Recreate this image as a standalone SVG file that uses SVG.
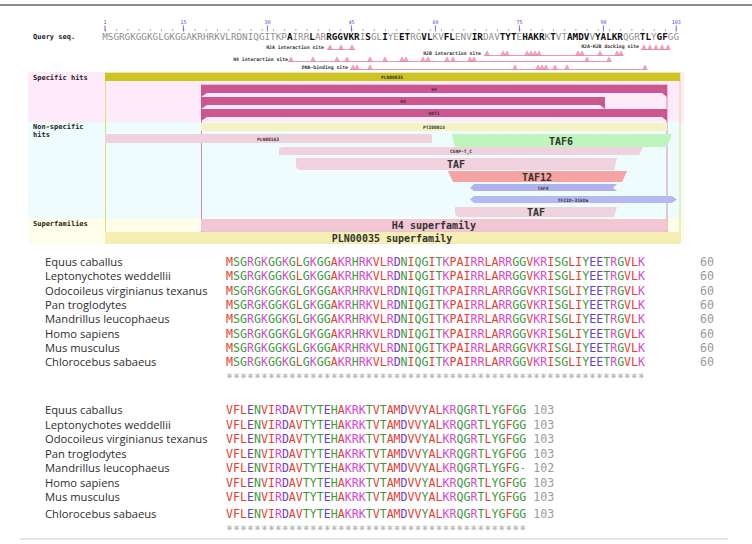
<svg xmlns="http://www.w3.org/2000/svg" xmlns:xlink="http://www.w3.org/1999/xlink" width="752" height="544" viewBox="0 0 752 544">
<style>
.mono{font-family:"DejaVu Sans Mono","Liberation Mono",monospace}
.lbl{font-family:"DejaVu Sans Mono",monospace;font-weight:bold;font-size:7px;fill:#222}
.tiny{font-family:"DejaVu Sans Mono",monospace;font-weight:bold;font-size:4.6px;fill:#333}
.big{font-family:"DejaVu Sans Mono",monospace;font-weight:bold;font-size:10px;fill:#333}
.site{font-family:"DejaVu Sans Mono",monospace;font-weight:bold;font-size:4.8px;fill:#333}
.ruler{font-family:"DejaVu Sans Mono",monospace;font-size:5px;fill:#4a4ad8}
.q{font-family:"DejaVu Sans Mono",monospace;font-size:9.3px;fill:#8e8e8e}
.qb{font-weight:bold;fill:#111}
.sp{font-family:"Open Sans","Liberation Sans",sans-serif;font-size:11.2px;fill:#2e2e2e}
.aln{font-family:"DejaVu Sans Mono","Liberation Mono",monospace;font-size:11.6px}
.r{fill:#e6402e}.b{fill:#6342dc}.m{fill:#d848cc}.g{fill:#3c9a3c}.n{fill:#9a9a9a}
.star{font-family:"DejaVu Sans Mono",monospace;font-size:11.6px;fill:#aaa}
.tri{fill:#f2a6bd;stroke:#e07896;stroke-width:0.5}
.sl{stroke:#e898b0;stroke-width:1;fill:none}
</style>
<defs>
<path id="tri" class="tri" d="M-2.3,0 L0,-4.6 L2.3,0 Z"/>
<text id="s1" class="aln" x="226" y="0"><tspan class="r">M</tspan><tspan class="g">SG</tspan><tspan class="m">R</tspan><tspan class="g">G</tspan><tspan class="m">K</tspan><tspan class="g">GG</tspan><tspan class="m">K</tspan><tspan class="g">G</tspan><tspan class="r">L</tspan><tspan class="g">G</tspan><tspan class="m">K</tspan><tspan class="g">GG</tspan><tspan class="r">A</tspan><tspan class="m">KR</tspan><tspan class="g">H</tspan><tspan class="m">RK</tspan><tspan class="r">VL</tspan><tspan class="m">R</tspan><tspan class="b">D</tspan><tspan class="g">N</tspan><tspan class="r">I</tspan><tspan class="g">QG</tspan><tspan class="r">I</tspan><tspan class="g">T</tspan><tspan class="m">K</tspan><tspan class="r">PAI</tspan><tspan class="m">RR</tspan><tspan class="r">LA</tspan><tspan class="m">RR</tspan><tspan class="g">GG</tspan><tspan class="r">V</tspan><tspan class="m">KR</tspan><tspan class="r">I</tspan><tspan class="g">SG</tspan><tspan class="r">LI</tspan><tspan class="g">Y</tspan><tspan class="b">EE</tspan><tspan class="g">T</tspan><tspan class="m">R</tspan><tspan class="g">G</tspan><tspan class="r">VL</tspan><tspan class="m">K</tspan><tspan class="n" x="700">60</tspan></text>
<text id="s2" class="aln" x="226" y="0"><tspan class="r">VFL</tspan><tspan class="b">E</tspan><tspan class="g">N</tspan><tspan class="r">VI</tspan><tspan class="m">R</tspan><tspan class="b">D</tspan><tspan class="r">AV</tspan><tspan class="g">TYT</tspan><tspan class="b">E</tspan><tspan class="g">H</tspan><tspan class="r">A</tspan><tspan class="m">KRK</tspan><tspan class="g">T</tspan><tspan class="r">V</tspan><tspan class="g">T</tspan><tspan class="r">AM</tspan><tspan class="b">D</tspan><tspan class="r">VV</tspan><tspan class="g">Y</tspan><tspan class="r">AL</tspan><tspan class="m">KR</tspan><tspan class="g">QG</tspan><tspan class="m">R</tspan><tspan class="g">T</tspan><tspan class="r">L</tspan><tspan class="g">YG</tspan><tspan class="r">F</tspan><tspan class="g">GG</tspan><tspan class="n"> 103</tspan></text>
<text id="s2d" class="aln" x="226" y="0"><tspan class="r">VFL</tspan><tspan class="b">E</tspan><tspan class="g">N</tspan><tspan class="r">VI</tspan><tspan class="m">R</tspan><tspan class="b">D</tspan><tspan class="r">AV</tspan><tspan class="g">TYT</tspan><tspan class="b">E</tspan><tspan class="g">H</tspan><tspan class="r">A</tspan><tspan class="m">KRK</tspan><tspan class="g">T</tspan><tspan class="r">V</tspan><tspan class="g">T</tspan><tspan class="r">AM</tspan><tspan class="b">D</tspan><tspan class="r">VV</tspan><tspan class="g">Y</tspan><tspan class="r">AL</tspan><tspan class="m">KR</tspan><tspan class="g">QG</tspan><tspan class="m">R</tspan><tspan class="g">T</tspan><tspan class="r">L</tspan><tspan class="g">YG</tspan><tspan class="r">F</tspan><tspan class="g">G</tspan><tspan class="n">- 102</tspan></text>
</defs>
<rect width="752" height="544" fill="#fff"/>
<line x1="0" y1="5" x2="752" y2="5" stroke="#666" stroke-width="1.5"/>

<g id="cdd-graphic">
  <g id="backgrounds">
    <rect x="28" y="72" width="656" height="50" fill="#fdeafa"/>
    <rect x="28" y="122" width="656" height="96" fill="#eefcfd"/>
    <rect x="28" y="218" width="656" height="26" fill="#fefdea"/>
  </g>
  <g id="ruler">
    <line x1="105" y1="30" x2="677" y2="30" stroke="#8888c8" stroke-width="1.3" stroke-dasharray="1 10.2"/>
    <g stroke="#4a4ad8" stroke-width="0.8">
      <line x1="105" y1="25.5" x2="105" y2="31.5"/><line x1="183.4" y1="25.5" x2="183.4" y2="31.5"/><line x1="267.4" y1="25.5" x2="267.4" y2="31.5"/><line x1="351.4" y1="25.5" x2="351.4" y2="31.5"/><line x1="435.4" y1="25.5" x2="435.4" y2="31.5"/><line x1="519.4" y1="25.5" x2="519.4" y2="31.5"/><line x1="603.4" y1="25.5" x2="603.4" y2="31.5"/><line x1="676.2" y1="25.5" x2="676.2" y2="31.5"/>
    </g>
    <g class="ruler" text-anchor="middle">
      <text x="105" y="24">1</text><text x="183.4" y="24">15</text><text x="267.4" y="24">30</text><text x="351.4" y="24">45</text><text x="435.4" y="24">60</text><text x="519.4" y="24">75</text><text x="603.4" y="24">90</text><text x="676.2" y="24">103</text>
    </g>
  </g>
  <text class="lbl" x="33" y="39">Query seq.</text>
  <text class="q" x="102.2" y="40">MSGRGKGGKGLGKGGAKRHRKVLRDNIQGITKP<tspan class="qb">A</tspan>IRR<tspan class="qb">L</tspan>AR<tspan class="qb">RGGVKR</tspan>I<tspan class="qb">S</tspan>GL<tspan class="qb">I</tspan>YE<tspan class="qb">ET</tspan>RG<tspan class="qb">VL</tspan>KV<tspan class="qb">FL</tspan>ENV<tspan class="qb">IR</tspan>DAV<tspan class="qb">TYT</tspan>E<tspan class="qb">HAKR</tspan>K<tspan class="qb">T</tspan>VT<tspan class="qb">AMDV</tspan>V<tspan class="qb">YALKR</tspan>QGR<tspan class="qb">TL</tspan>Y<tspan class="qb">GF</tspan>GG</text>

  <g id="sites">
    <g id="site-h2a">
      <text class="site" x="324" y="49" text-anchor="end">H2A interaction site</text>
      <line class="sl" x1="327" y1="49.5" x2="355" y2="49.5"/>
      <use href="#tri" x="330" y="49.5"/><use href="#tri" x="341" y="49.5"/><use href="#tri" x="352" y="49.5"/>
    </g>
    <g id="site-dock">
      <text class="site" x="639" y="48" text-anchor="end">H2A-H2B docking site</text>
      <line class="sl" x1="641" y1="49.5" x2="670" y2="49.5"/>
      <use href="#tri" x="644" y="49.5"/><use href="#tri" x="650" y="49.5"/><use href="#tri" x="656" y="49.5"/><use href="#tri" x="662" y="49.5"/><use href="#tri" x="668" y="49.5"/>
    </g>
    <g id="site-h2b">
      <text class="site" x="481" y="55" text-anchor="end">H2B interaction site</text>
      <line class="sl" x1="484" y1="55.5" x2="623" y2="55.5"/>
      <use href="#tri" x="487" y="55.5"/><use href="#tri" x="503" y="55.5"/><use href="#tri" x="507" y="55.5"/><use href="#tri" x="527" y="55.5"/><use href="#tri" x="531" y="55.5"/><use href="#tri" x="535" y="55.5"/><use href="#tri" x="539" y="55.5"/><use href="#tri" x="578" y="55.5"/><use href="#tri" x="582" y="55.5"/><use href="#tri" x="600" y="55.5"/><use href="#tri" x="617" y="55.5"/><use href="#tri" x="621" y="55.5"/>
    </g>
    <g id="site-h4">
      <text class="site" x="288" y="61" text-anchor="end">H4 interaction site</text>
      <line class="sl" x1="288" y1="61.5" x2="611" y2="61.5"/>
      <use href="#tri" x="291" y="61.5"/><use href="#tri" x="313" y="61.5"/><use href="#tri" x="337" y="61.5"/><use href="#tri" x="347" y="61.5"/><use href="#tri" x="370" y="61.5"/><use href="#tri" x="385" y="61.5"/><use href="#tri" x="402" y="61.5"/><use href="#tri" x="406" y="61.5"/><use href="#tri" x="423" y="61.5"/><use href="#tri" x="428" y="61.5"/><use href="#tri" x="447" y="61.5"/><use href="#tri" x="453" y="61.5"/><use href="#tri" x="470" y="61.5"/><use href="#tri" x="474" y="61.5"/><use href="#tri" x="587" y="61.5"/><use href="#tri" x="609" y="61.5"/>
    </g>
    <g id="site-dna">
      <text class="site" x="348" y="69" text-anchor="end">DNA-binding site</text>
      <line class="sl" x1="350" y1="69.5" x2="646" y2="69.5"/>
      <use href="#tri" x="353" y="69.5"/><use href="#tri" x="357" y="69.5"/><use href="#tri" x="370" y="69.5"/><use href="#tri" x="515" y="69.5"/><use href="#tri" x="538" y="69.5"/><use href="#tri" x="542" y="69.5"/><use href="#tri" x="546" y="69.5"/><use href="#tri" x="555" y="69.5"/><use href="#tri" x="567" y="69.5"/><use href="#tri" x="645" y="69.5"/>
    </g>
  </g>

  <text class="lbl" x="33" y="80">Specific hits</text>
  <text class="lbl" x="33" y="129">Non-specific</text>
  <text class="lbl" x="33" y="137">hits</text>
  <text class="lbl" x="33" y="226">Superfamilies</text>

  <g id="frames" fill="none">
    <rect x="105.5" y="73" width="574.5" height="170" stroke="#e4dc78" stroke-width="1"/>
    <rect x="201.5" y="85" width="465.5" height="147" stroke="#d68ab2" stroke-width="1"/>
  </g>

  <g id="PLN00035">
    <rect x="105" y="73" width="575" height="8" fill="#cec421"/>
    <text class="tiny" x="392" y="79" text-anchor="middle">PLN00035</text>
  </g>
  <g id="H4-1">
    <polygon points="201,85 667,85 667,97 662,93 207,93 201,97" fill="#cc5790"/>
    <text class="tiny" x="434" y="91" text-anchor="middle">H4</text>
  </g>
  <g id="H4-2">
    <polygon points="201,97 605,97 605,109 600,105 207,105 201,109" fill="#cc5790"/>
    <text class="tiny" x="403" y="103" text-anchor="middle">H4</text>
  </g>
  <g id="HHT1">
    <polygon points="201,109 667,109 667,121 662,117 207,117 201,121" fill="#cc5790"/>
    <text class="tiny" x="434" y="115" text-anchor="middle">HHT1</text>
  </g>
  <g id="PTZ00015">
    <rect x="201" y="123" width="466" height="8" fill="#f5f2c4"/>
    <text class="tiny" x="434" y="129" text-anchor="middle">PTZ00015</text>
  </g>
  <g id="PLN00163">
    <path d="M105,134 H430 Q432,134 432,136 V143 H105 Z" fill="#f0d2de"/>
    <text class="tiny" x="268" y="140.5" text-anchor="middle">PLN00163</text>
  </g>
  <g id="TAF6">
    <polygon points="452,134 672,134 667,147 455,147" fill="#bdf5bd"/>
    <text class="big" x="561" y="145" text-anchor="middle">TAF6</text>
  </g>
  <g id="CENP-T_C">
    <path d="M283,147 H643 L639,155 H279 V151 Q279,147 283,147 Z" fill="#f0d2de"/>
    <text class="tiny" x="461" y="153" text-anchor="middle">CENP-T_C</text>
  </g>
  <g id="TAF-1">
    <path d="M296,158 H617 L614,170 H301 Q296,170 296,165 Z" fill="#f0d2de"/>
    <text class="big" x="456" y="168" text-anchor="middle">TAF</text>
  </g>
  <g id="TAF12">
    <polygon points="448,171 627,171 622,182 453,182" fill="#f5a3a3"/>
    <text class="big" x="537" y="181" text-anchor="middle">TAF12</text>
  </g>
  <g id="TAF9">
    <polygon points="470,184 617,184 613,188 617,191 474,191 470,188 474,184" fill="#b0b2f0"/>
    <text class="tiny" x="543" y="189.5" text-anchor="middle">TAF9</text>
  </g>
  <g id="TFIID-31kDa">
    <polygon points="470,196 672,196 677,199.5 672,203 474,203 470,199.5 474,196" fill="#b6b8f2"/>
    <text class="tiny" x="573" y="201.5" text-anchor="middle">TFIID-31kDa</text>
  </g>
  <g id="TAF-2">
    <path d="M455,207 H617 L614,217 H460 Q455,217 455,212 Z" fill="#f0d2de"/>
    <text class="big" x="536" y="216" text-anchor="middle">TAF</text>
  </g>
  <g id="H4-superfamily">
    <rect x="201" y="219" width="466" height="12" fill="#f3c6d6"/>
    <text class="big" x="434" y="229" text-anchor="middle">H4 superfamily</text>
  </g>
  <g id="PLN00035-superfamily">
    <rect x="105" y="232" width="575" height="11" fill="#f5efb4"/>
    <text class="big" x="392" y="241.5" text-anchor="middle">PLN00035 superfamily</text>
  </g>
</g>

<g id="alignment-1">
  <text class="sp" x="45" y="266">Equus caballus</text>
  <text class="sp" x="45" y="280.3">Leptonychotes weddellii</text>
  <text class="sp" x="45" y="294.6">Odocoileus virginianus texanus</text>
  <text class="sp" x="45" y="308.9">Pan troglodytes</text>
  <text class="sp" x="45" y="323.2">Mandrillus leucophaeus</text>
  <text class="sp" x="45" y="337.5">Homo sapiens</text>
  <text class="sp" x="45" y="351.8">Mus musculus</text>
  <text class="sp" x="45" y="366.1">Chlorocebus sabaeus</text>
  <use href="#s1" y="266"/><use href="#s1" y="280.3"/><use href="#s1" y="294.6"/><use href="#s1" y="308.9"/><use href="#s1" y="323.2"/><use href="#s1" y="337.5"/><use href="#s1" y="351.8"/><use href="#s1" y="366.1"/>
  <text class="star" x="226" y="382">************************************************************</text>
</g>

<g id="alignment-2">
  <text class="sp" x="45" y="414">Equus caballus</text>
  <text class="sp" x="45" y="428.5">Leptonychotes weddellii</text>
  <text class="sp" x="45" y="443">Odocoileus virginianus texanus</text>
  <text class="sp" x="45" y="457.5">Pan troglodytes</text>
  <text class="sp" x="45" y="472">Mandrillus leucophaeus</text>
  <text class="sp" x="45" y="486.5">Homo sapiens</text>
  <text class="sp" x="45" y="501">Mus musculus</text>
  <text class="sp" x="45" y="517.5">Chlorocebus sabaeus</text>
  <use href="#s2" y="414"/><use href="#s2" y="428.5"/><use href="#s2" y="443"/><use href="#s2" y="457.5"/><use href="#s2d" y="472"/><use href="#s2" y="486.5"/><use href="#s2" y="501"/><use href="#s2" y="517.5"/>
  <text class="star" x="226" y="534">*******************************************</text>
</g>
<line x1="20" y1="539" x2="728" y2="539" stroke="#dcdcdc" stroke-width="1.5"/>
</svg>
